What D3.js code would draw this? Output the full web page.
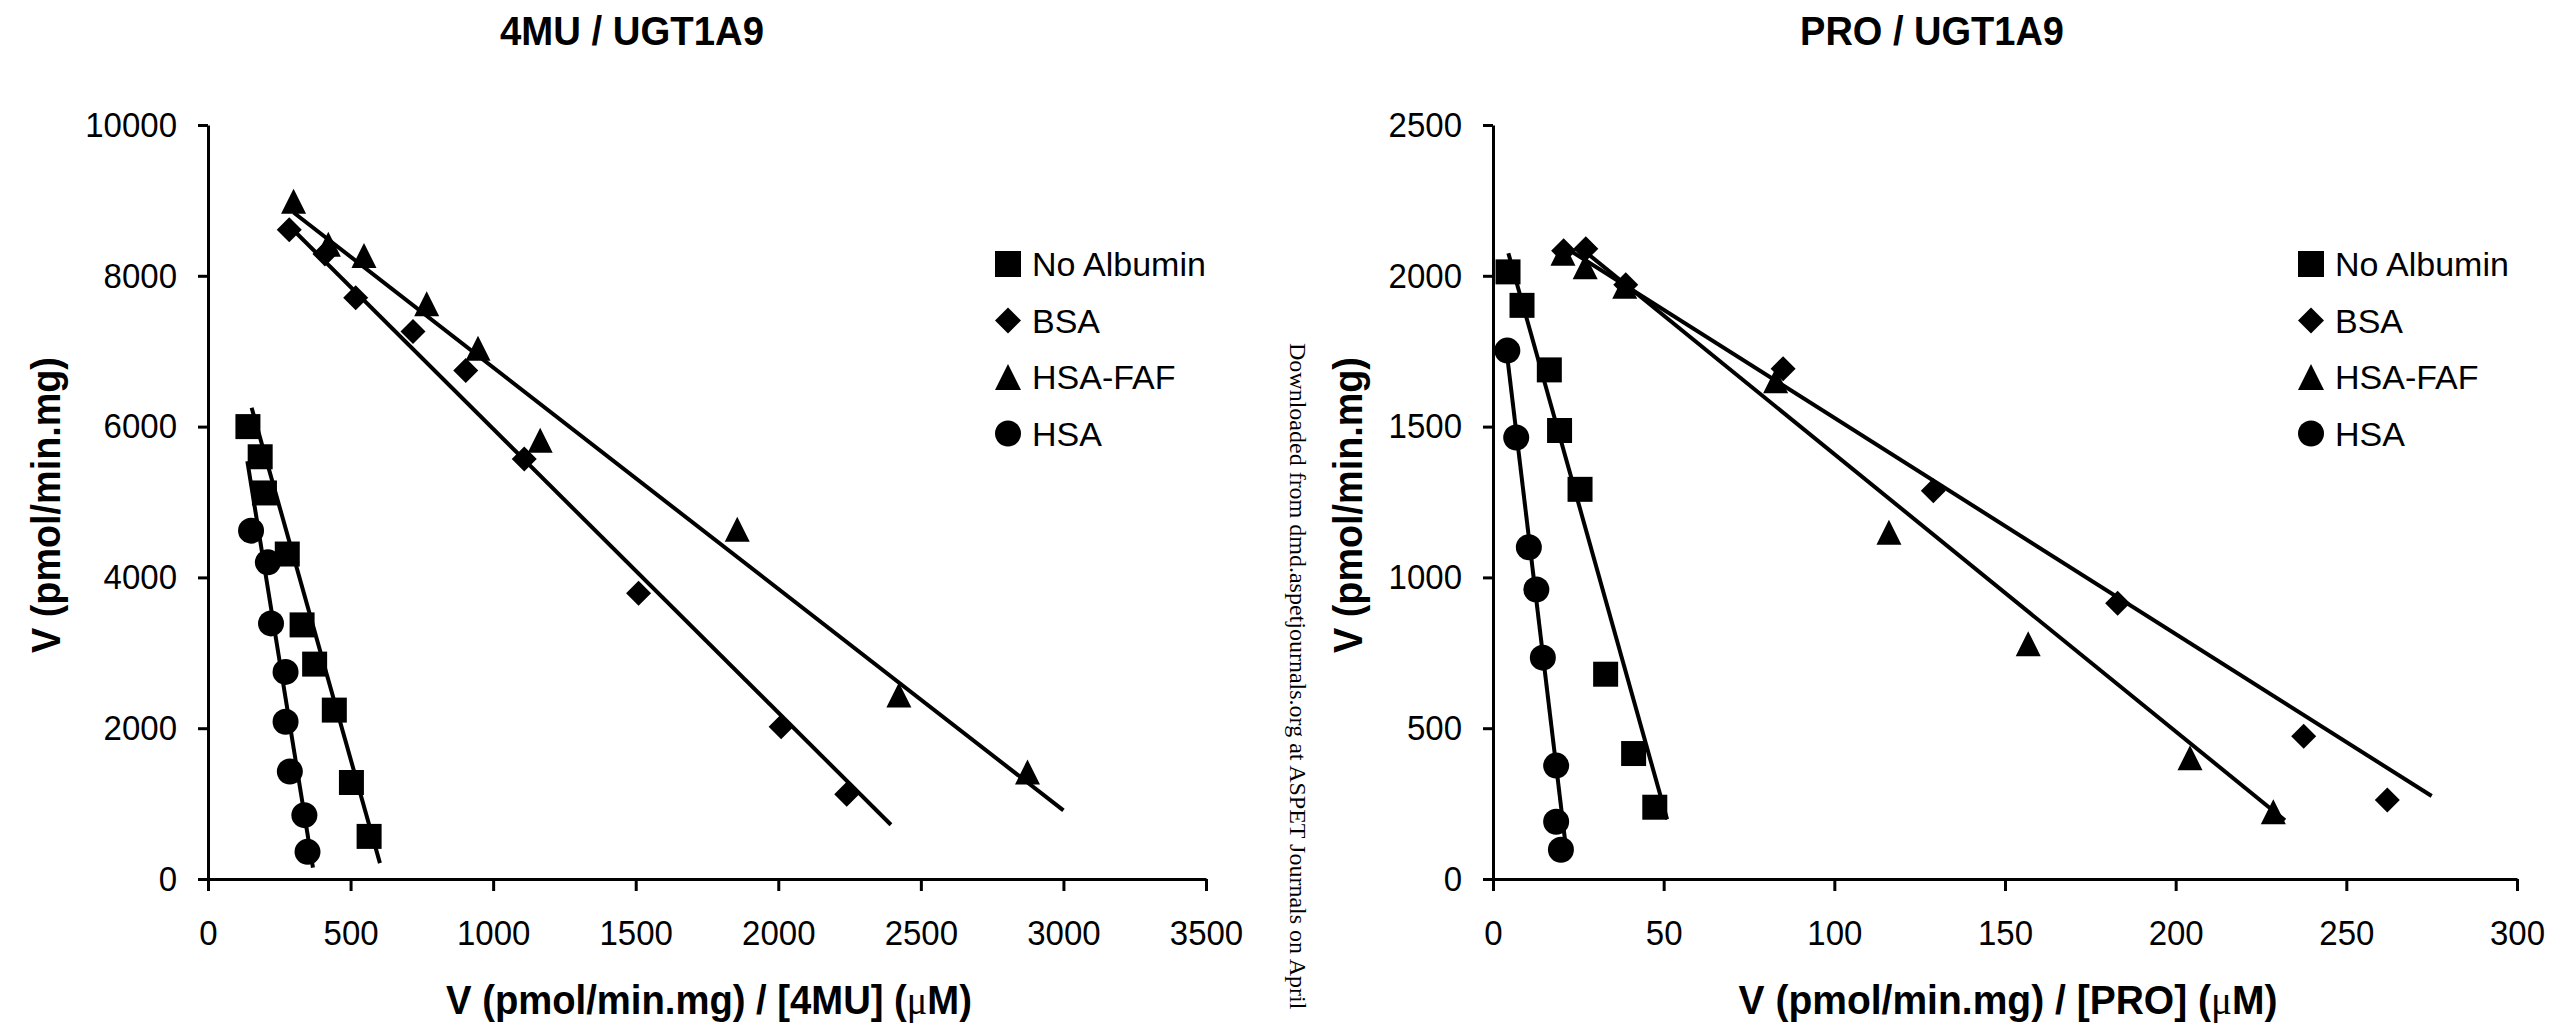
<!DOCTYPE html>
<html lang="en">
<head>
  <meta charset="UTF-8">
  <title>4MU / PRO UGT1A9</title>
  <style>
  body { margin: 0; background: #fff; }
  svg text { fill: #000; }
  .axis path, .axis line { stroke: #000; stroke-width: 3; }
  .axis text { font-family: "Liberation Sans", Arial, sans-serif; font-size: 35.5px; }
  .fit { stroke: #000; stroke-width: 4; fill: none; }
  .lbl { font-family: "Liberation Sans", Arial, sans-serif; font-size: 41px; font-weight: bold; }
  .leg { font-family: "Liberation Sans", Arial, sans-serif; font-size: 34px; }
  .mu { font-family: "Liberation Serif", "Times New Roman", serif; font-weight: normal; }
  .wm { font-family: "Liberation Serif", "Times New Roman", serif; font-size: 24px; }
  </style>
</head>
<body>
  <svg width="2570" height="1030"></svg>

  <script src="https://cdnjs.cloudflare.com/ajax/libs/d3/7.8.5/d3.min.js"></script>
  <script>
  var seriesNames = ["No Albumin", "BSA", "HSA-FAF", "HSA"];
  var markers = ["square", "diamond", "triangle", "circle"];

  // 4MU / UGT1A9  (x = V/[S], y = V)
  var muNoAlbX = [140, 183, 198, 278, 330, 374, 443, 503, 565];
  var muNoAlbY = [6000, 5600, 5120, 4310, 3370, 2850, 2240, 1280, 565];
  var muBsaX = [285, 410, 518, 719, 904, 1109, 1510, 2010, 2240];
  var muBsaY = [8610, 8290, 7710, 7260, 6745, 5570, 3790, 2020, 1125];
  var muFafX = [300, 422, 547, 767, 947, 1165, 1856, 2423, 2874];
  var muFafY = [8990, 8420, 8270, 7630, 7040, 5820, 4640, 2440, 1420];
  var muHsaX = [151, 210, 221, 272, 272, 287, 338, 349];
  var muHsaY = [4620, 4200, 3390, 2747, 2085, 1425, 847, 360];
  // fitted lines, end points
  var muFitNoAlb = [[153, 6250], [603, 210]];
  var muFitBsa = [[280, 8680], [2395, 720]];
  var muFitFaf = [[300, 8840], [3000, 910]];
  var muFitHsa = [[138, 5540], [368, 150]];
  var muXTicks = [0, 500, 1000, 1500, 2000, 2500, 3000, 3500];
  var muYTicks = [0, 2000, 4000, 6000, 8000, 10000];

  // PRO / UGT1A9
  var proNoAlbX = [4.4, 8.5, 16.5, 19.5, 25.5, 33, 41.2, 47.4];
  var proNoAlbY = [2013, 1902, 1688, 1487, 1292, 679, 416, 238];
  var proBsaX = [20.7, 27.2, 38.9, 85, 129, 183, 237.5, 262];
  var proBsaY = [2083, 2090, 1970, 1692, 1287, 914, 473, 262];
  var proFafX = [20.5, 27, 38.6, 82.8, 116, 156.8, 204.2, 228.6];
  var proFafY = [2075, 2030, 1965, 1652, 1150, 780, 402, 223];
  var proHsaX = [4.2, 6.8, 10.5, 12.7, 14.6, 18.5, 18.5, 19.9];
  var proHsaY = [1752, 1464, 1100, 960, 734, 376, 190, 97];
  var proFitNoAlb = [[4.5, 2075], [51, 198]];
  var proFitBsa = [[21, 2095], [275, 275]];
  var proFitFaf = [[27, 2080], [232, 195]];
  var proFitHsa = [[4.3, 1720], [21.3, 110]];
  var proXTicks = [0, 50, 100, 150, 200, 250, 300];
  var proYTicks = [0, 500, 1000, 1500, 2000, 2500];

  var svg = d3.select("svg");

  // marker shapes, h = half size
  function markerPath(kind, h) {
    if (kind == "square") return "M" + -h + "," + -h + "h" + 2*h + "v" + 2*h + "h" + -2*h + "Z";
    if (kind == "diamond") return "M0," + -h + "L" + h + ",0L0," + h + "L" + -h + ",0Z";
    if (kind == "triangle") return "M0," + -h + "L" + h + "," + h + "L" + -h + "," + h + "Z";
    return d3.arc()({innerRadius: 0, outerRadius: h, startAngle: 0, endAngle: 2 * Math.PI});
  }

  function zip(xs, ys) { return xs.map((x, i) => [x, ys[i]]); }

  // the original bold labels are a bit condensed: squeeze text to a target width
  function squeeze(t, w) {
    var len = t.node().getComputedTextLength();
    t.attr("transform", "scale(" + (w / len) + ",1)");
  }

  // narrow the tick numbers a little, around their anchor x
  function narrowTicks(a) {
    a.selectAll("text")
      .attr("font-family", null).attr("font-size", null)
      .attr("transform", function() {
        var x0 = +d3.select(this).attr("x") || 0;
        return "translate(" + x0 + ",0) scale(0.93,1) translate(" + -x0 + ",0)";
      });
  }

  function drawPanel(p) {
    var x = d3.scaleLinear().domain(p.xDomain).range(p.xRange);
    var y = d3.scaleLinear().domain(p.yDomain).range([879, 125]);
    var g = svg.append("g");

    g.append("g").attr("class", "axis")
      .attr("transform", "translate(0,879)")
      .call(d3.axisBottom(x).tickValues(p.xTicks).tickFormat(d3.format("d"))
              .tickSize(12).tickSizeOuter(0).tickPadding(29))
      .call(narrowTicks);
    g.append("g").attr("class", "axis")
      .attr("transform", "translate(" + p.xRange[0] + ",0)")
      .call(d3.axisLeft(y).tickValues(p.yTicks).tickFormat(d3.format("d"))
              .tickSize(10).tickSizeOuter(0).tickPadding(21))
      .call(narrowTicks);

    // regression lines
    g.selectAll(".fit").data(p.fits).enter()
      .append("line").attr("class", "fit")
        .attr("x1", d => x(d[0][0])).attr("y1", d => y(d[0][1]))
        .attr("x2", d => x(d[1][0])).attr("y2", d => y(d[1][1]));

    // points
    p.series.forEach(function(s, i) {
      g.append("g").selectAll("path").data(s).enter()
        .append("path")
          .attr("d", markerPath(markers[i], i == 3 ? 13 : 12.5))
          .attr("transform", d => "translate(" + x(d[0]) + "," + y(d[1]) + ")")
          .attr("fill", "#000");
    });

    // legend
    var lg = g.append("g").attr("transform", "translate(" + p.legendX + ",0)");
    seriesNames.forEach(function(n, i) {
      var yy = 264 + i * 56.5;
      lg.append("path").attr("d", markerPath(markers[i], 13))
        .attr("transform", "translate(13," + yy + ")").attr("fill", "#000");
      lg.append("text").attr("class", "leg").attr("x", 37).attr("y", yy + 12).text(n);
    });

    // title
    var tg = g.append("g").attr("transform", "translate(" + p.titleX + ",45)");
    var tt = tg.append("text").attr("class", "lbl").attr("text-anchor", "middle").text(p.title);
    squeeze(tt, 264);

    // x label
    var xg = g.append("g").attr("transform", "translate(" + p.xLabelX + ",1014)");
    var xl = xg.append("text").attr("class", "lbl").attr("text-anchor", "middle");
    xl.append("tspan").text("V (pmol/min.mg) / [" + p.sub + "] (");
    xl.append("tspan").attr("class", "mu").text("\u03bc");
    xl.append("tspan").text("M)");
    squeeze(xl, p.xLabelW);

    // y label
    var yg = g.append("g").attr("transform", "translate(" + p.yLabelX + ",505) rotate(-90)");
    var yl = yg.append("text").attr("class", "lbl").attr("text-anchor", "middle").text("V (pmol/min.mg)");
    squeeze(yl, 296);
  }

  drawPanel({
    title: "4MU / UGT1A9", sub: "4MU",
    xDomain: [0, 3500], xRange: [208, 1206], yDomain: [0, 10000],
    xTicks: muXTicks, yTicks: muYTicks,
    series: [zip(muNoAlbX, muNoAlbY), zip(muBsaX, muBsaY), zip(muFafX, muFafY), zip(muHsaX, muHsaY)],
    fits: [muFitNoAlb, muFitBsa, muFitFaf, muFitHsa],
    legendX: 995, titleX: 632, xLabelX: 709, xLabelW: 526, yLabelX: 60
  });

  drawPanel({
    title: "PRO / UGT1A9", sub: "PRO",
    xDomain: [0, 300], xRange: [1493, 2517], yDomain: [0, 2500],
    xTicks: proXTicks, yTicks: proYTicks,
    series: [zip(proNoAlbX, proNoAlbY), zip(proBsaX, proBsaY), zip(proFafX, proFafY), zip(proHsaX, proHsaY)],
    fits: [proFitNoAlb, proFitBsa, proFitFaf, proFitHsa],
    legendX: 2298, titleX: 1932, xLabelX: 2008, xLabelW: 539, yLabelX: 1362
  });

  // journal watermark running down the middle
  svg.append("text").attr("class", "wm")
    .attr("transform", "translate(1290,343) rotate(90)")
    .text("Downloaded from dmd.aspetjournals.org at ASPET Journals on April");
  </script>
</body>
</html>
